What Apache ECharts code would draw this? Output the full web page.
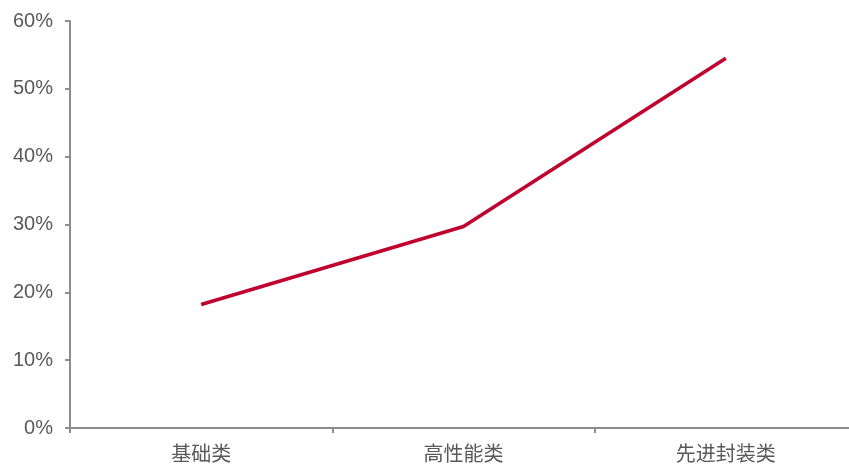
<!DOCTYPE html>
<html><head><meta charset="utf-8">
<script src="https://cdn.jsdelivr.net/npm/echarts@6/dist/echarts.min.js"></script>
<style>html,body{margin:0;padding:0;background:#fff;overflow:hidden}#c{width:857px;height:464px}</style>
</head><body><div id="c"></div>
<script>
const categories = ['基础类', '高性能类', '先进封装类'];
const values = [18.2, 29.7, 54.5];
const chart = echarts.init(document.getElementById('c'));
const axisColor = '#8c8c8c';
chart.setOption({
  animation: false,
  grid: { left: 70, top: 21, right: 0, bottom: 36, containLabel: false, outerBoundsMode: 'none' },
  xAxis: {
    type: 'category', data: categories, boundaryGap: true,
    axisLine: { lineStyle: { color: axisColor, width: 2 } },
    axisTick: { show: true, length: 5, lineStyle: { color: axisColor, width: 2 } },
    axisLabel: { color: '#595959', fontSize: 20, margin: 15, fontFamily: 'Noto Sans CJK SC' }
  },
  yAxis: {
    type: 'value', min: 0, max: 60, interval: 10,
    axisLine: { show: true, lineStyle: { color: axisColor, width: 2 } },
    axisTick: { show: true, length: 5, lineStyle: { color: axisColor, width: 2 } },
    splitLine: { show: false },
    axisLabel: { color: '#595959', fontSize: 20, margin: 17, fontFamily: 'Liberation Sans', formatter: '{value}%' }
  },
  series: [{
    type: 'line', data: values, symbol: 'none',
    lineStyle: { color: '#C0002F', width: 3.5 }
  }]
});
</script></body></html>
